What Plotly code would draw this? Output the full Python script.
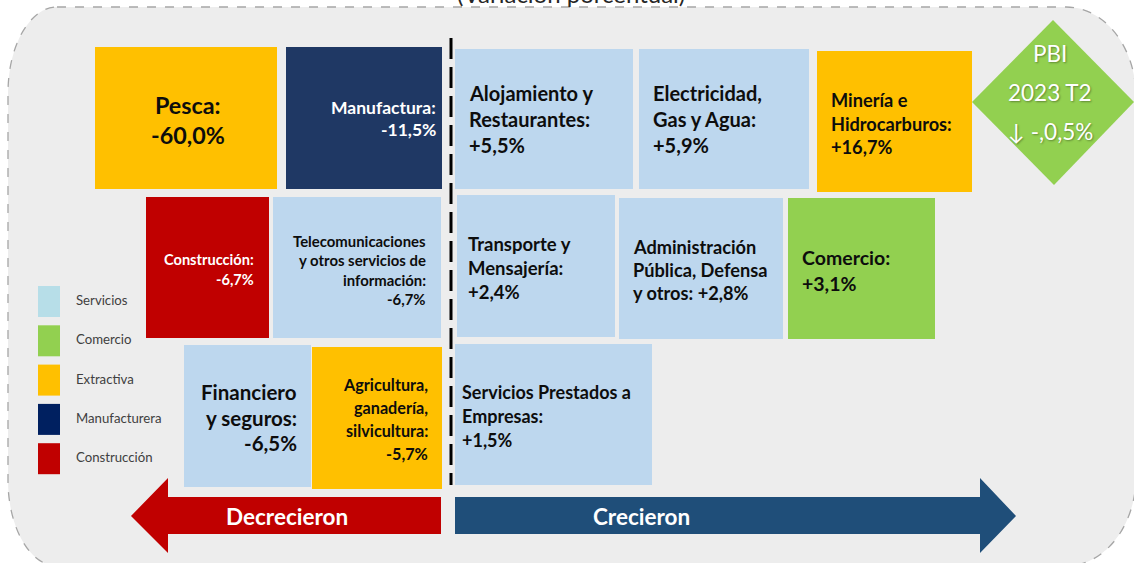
import plotly.graph_objects as go

# ---------------- data ----------------
sectors = [
    "Pesca", "Manufactura", "Alojamiento y\nRestaurantes", "Electricidad,\nGas y Agua",
    "Minería e\nHidrocarburos", "Construcción", "Telecomunicaciones\ny otros servicios de\ninformación",
    "Transporte y\nMensajería", "Administración\nPública, Defensa\ny otros", "Comercio",
    "Financiero\ny seguros", "Agricultura,\nganadería,\nsilvicultura", "Servicios Prestados a\nEmpresas",
]
growth = [-60.0, -11.5, 5.5, 5.9, 16.7, -6.7, -6.7, 2.4, 2.8, 3.1, -6.5, -5.7, 1.5]
sector_type = [
    "Extractiva", "Manufacturera", "Servicios", "Servicios", "Extractiva", "Construcción",
    "Servicios", "Servicios", "Servicios", "Comercio", "Servicios", "Extractiva", "Servicios",
]
legend_types = ["Servicios", "Comercio", "Extractiva", "Manufacturera", "Construcción"]
pbi_lines = ["PBI", "2023 T2", "↓ -,0,5%"]
title_text = "(Variación porcentual)"
arrow_labels = ["Decrecieron", "Crecieron"]

# ---------------- styles / layout geometry ----------------
FONT = "Lato"
box_fill = {"Servicios": "#BDD7EE", "Comercio": "#92D050", "Extractiva": "#FFC000",
            "Manufacturera": "#1F3864", "Construcción": "#C00000"}
legend_fill = {"Servicios": "#B7DEE8", "Comercio": "#92D050", "Extractiva": "#FFC000",
               "Manufacturera": "#002060", "Construcción": "#C00000"}
text_col = {"Manufacturera": "white", "Construcción": "white"}

# x0, x1, y0, y1, text_x, anchor, first_line_y, line_step, font_size, value_inline
geom = [
    (95, 277, 47, 189, 188, "center", 105, 30, 23.3, False),
    (286, 442, 47, 189, 438, "right", 107, 22, 17.5, False),
    (455, 633, 49, 189, 467, "left", 93, 26, 20, False),
    (639, 809, 49, 189, 651, "left", 93, 26, 20, False),
    (817, 972, 51, 192, 829, "left", 100, 23.5, 18.2, False),
    (146, 269, 197, 338, 256, "right", 259, 20, 14.6, False),
    (273, 441, 197, 338, 428, "right", 241, 19.3, 14.9, False),
    (457, 615, 195, 337, 466, "left", 244, 24, 18.5, False),
    (619, 783, 198, 339, 631, "left", 247, 23, 18.2, True),
    (788, 935, 198, 339, 800, "left", 257, 26, 19.5, False),
    (184, 311, 345, 487, 299, "right", 392, 25.5, 20.5, False),
    (312, 442, 347, 489, 430, "right", 384, 23.3, 16.2, False),
    (455, 652, 344, 485, 460, "left", 392, 24, 18, False),
]


def fmt(v):
    s = f"{abs(v):.1f}".replace(".", ",")
    return ("+" if v > 0 else "-") + s + "%"


def rrect(x0, y0, x1, y1, radii):
    k = 0.5523
    (tlx, tly), (trx, try_), (brx, bry), (blx, bly) = radii
    p = f"M {x0+tlx},{y0} L {x1-trx},{y0} "
    p += f"C {x1-trx+k*trx},{y0} {x1},{y0+try_-k*try_} {x1},{y0+try_} "
    p += f"L {x1},{y1-bry} C {x1},{y1-bry+k*bry} {x1-brx+k*brx},{y1} {x1-brx},{y1} "
    p += f"L {x0+blx},{y1} C {x0+blx-k*blx},{y1} {x0},{y1-bly+k*bly} {x0},{y1-bly} "
    p += f"L {x0},{y0+tly} C {x0},{y0+tly-k*tly} {x0+tlx-k*tlx},{y0} {x0+tlx},{y0} Z"
    return p


shapes = []
annotations = []

# background panel
shapes.append(dict(type="path", xref="x", yref="y",
                   path=rrect(8, 7, 1136, 566, [(49, 86), (70, 90), (70, 90), (49, 86)]),
                   fillcolor="#EDEDED", line=dict(color="#A6A6A6", width=1.3, dash="dash"),
                   layer="below"))

# sector boxes
for name, val, typ, g in zip(sectors, growth, sector_type, geom):
    x0, x1, y0, y1, tx, anc, ty, step, fs, inline = g
    shapes.append(dict(type="rect", xref="x", yref="y", x0=x0, x1=x1, y0=y0, y1=y1,
                       fillcolor=box_fill[typ], line=dict(width=0), layer="below"))
    lines = name.split("\n")
    lines[-1] = lines[-1] + ":"
    if inline:
        lines[-1] = lines[-1] + " " + fmt(val)
    else:
        lines.append(fmt(val))
    col = text_col.get(typ, "#0D0D0D")
    for i, ln in enumerate(lines):
        annotations.append(dict(x=tx, y=ty + i * step, xref="x", yref="y", text=f"<b>{ln}</b>",
                                showarrow=False, xanchor=anc, yanchor="middle",
                                font=dict(family=FONT, size=fs, color=col)))

# dashed divider
shapes.append(dict(type="line", xref="x", yref="y", x0=451, x1=451, y0=38, y1=485,
                   line=dict(color="black", width=3, dash="21px,8px")))

# PBI diamond
shapes.append(dict(type="path", xref="x", yref="y",
                   path="M 1053,20 L 1134,102 L 1054,185 L 972,102 Z",
                   fillcolor="#92D050", line=dict(width=0)))
for i, ln in enumerate(pbi_lines):
    annotations.append(dict(x=1050, y=53 + i * 39, xref="x", yref="y", text=ln, showarrow=False,
                            xanchor="center", yanchor="middle",
                            font=dict(family=FONT, size=22.5, color="white",
                                      shadow="1px 1px 2px rgba(0,0,0,0.35)")))

# legend
for i, t in enumerate(legend_types):
    yy = 286 + i * 39.3
    shapes.append(dict(type="rect", xref="x", yref="y", x0=38, x1=60, y0=yy, y1=yy + 31,
                       fillcolor=legend_fill[t], line=dict(width=0)))
    annotations.append(dict(x=74, y=yy + 14, xref="x", yref="y", text=t, showarrow=False,
                            xanchor="left", yanchor="middle",
                            font=dict(family=FONT, size=13.2, color="#404040")))

# arrows
shapes.append(dict(type="path", xref="x", yref="y",
                   path="M 441,497 L 168,497 L 168,478 L 131,516 L 168,553 L 168,534 L 441,534 Z",
                   fillcolor="#C00000", line=dict(width=0)))
shapes.append(dict(type="path", xref="x", yref="y",
                   path="M 455,497 L 980,497 L 980,478 L 1016,516 L 980,553 L 980,534 L 455,534 Z",
                   fillcolor="#1F4E79", line=dict(width=0)))
annotations.append(dict(x=287, y=516, xref="x", yref="y", text=f"<b>{arrow_labels[0]}</b>",
                        showarrow=False, font=dict(family=FONT, size=22.5, color="white")))
annotations.append(dict(x=641, y=516, xref="x", yref="y", text=f"<b>{arrow_labels[1]}</b>",
                        showarrow=False, font=dict(family=FONT, size=22.5, color="white")))

# cut-off title at the top, as in the reference (paper-referenced so it is not hidden)
annotations.append(dict(x=571 / 1134, y=1 + 6 / 563, xref="paper", yref="paper", text=title_text,
                        showarrow=False, xanchor="center", yanchor="middle",
                        font=dict(family=FONT, size=24, color="#262626")))

fig = go.Figure()
fig.add_trace(go.Scatter(x=[0, 1134], y=[0, 563], mode="markers", marker=dict(opacity=0),
                         hoverinfo="skip", showlegend=False))
fig.update_layout(
    width=1134, height=563, margin=dict(l=0, r=0, t=0, b=0),
    paper_bgcolor="white", plot_bgcolor="white",
    xaxis=dict(range=[0, 1134], visible=False, fixedrange=True),
    yaxis=dict(range=[563, 0], visible=False, fixedrange=True),
    shapes=shapes, annotations=annotations, showlegend=False,
)
fig.write_html("out.html", config={"displayModeBar": False},
               post_script="document.body.style.margin='0px';")
